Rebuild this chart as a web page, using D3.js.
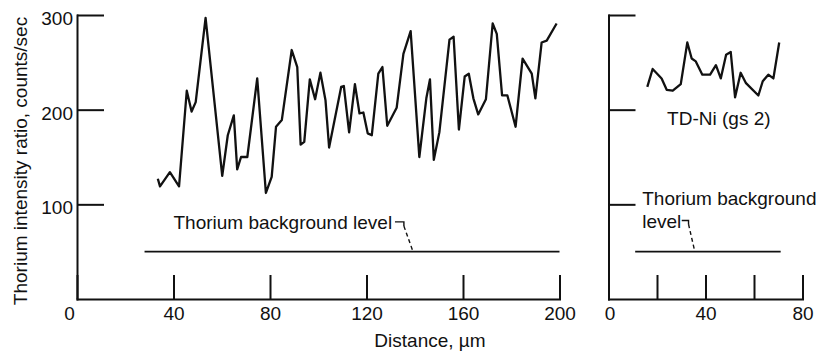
<!DOCTYPE html>
<html>
<head>
<meta charset="utf-8">
<script src="https://cdn.jsdelivr.net/npm/d3@7"></script>
<style>
body{margin:0;background:#fff;}
svg text{font-family:"Liberation Sans",Arial,sans-serif;font-size:19px;fill:#111;}
.axis path,.axis line{stroke:#111;stroke-width:2;}
</style>
</head>
<body>
<svg id="chart"></svg>
<script>
// left panel, distance in um / counts per sec
var distanceA=[33.5,34.4,38.5,42.3,45.5,47.5,49.2,53.3,60.2,62.5,65.0,66.4,68.0,70.6,74.7,78.3,80.7,82.5,84.9,89.0,
  91.3,92.7,94.2,96.5,98.7,100.9,103.0,104.5,109.5,110.6,112.8,115.2,117.1,118.7,120.5,122.2,124.9,126.6,128.6,132.5,
  135.3,138.3,141.9,144.8,146.3,147.9,150.2,154.4,156.1,158.3,160.7,162.4,164.3,166.3,169.5,172.3,174.0,176.2,178.4,181.8,
  184.7,188.5,190.0,192.6,194.7,198.8];
var intensityA=[127,119,134,119,220,198,208,297,130,173,194,137,150,150,233,112,129,182,189,263,
  245,163,166,232,211,239,210,160,224,225,176,227,196,197,175,173,238,245,183,202,
  259,283,150,212,232,147,176,274,277,179,235,238,212,195,211,291,280,215,215,182,
  254,238,212,271,273,291];
// right panel, TD-Ni (gs 2)
var distanceB=[16.0,18.2,21.9,24.0,26.5,29.8,32.5,34.3,36.0,38.7,41.9,44.3,46.3,48.5,50.4,52.2,54.5,56.7,61.8,63.6,65.9,68.0,70.4];
var intensityB=[224,243,233,221,220,227,271,254,251,237,237,247,233,258,261,213,239,228,215,230,237,233,271];
var backgroundLevel=50;
var backgroundA=[28,200];
var backgroundB=[11,71];
var yTicks=[100,200,300];
var xTicksA=[0,40,80,120,160,200];
var xTicksB=[0,20,40,60,80];
var xLabelsB=[0,40,80];

var svg=d3.select("#chart").attr("width",821).attr("height",352);

var yScale=d3.scaleLinear().domain([0,300]).range([299,15]);
var xA=d3.scaleLinear().domain([0,200]).range([77,559.5]);
var xB=d3.scaleLinear().domain([0,80]).range([608.5,802.5]);

var panel=function(x,xTicks,labelFn,yLabels,dist,vals,bg){
  var xAxis=d3.axisBottom(x).tickValues(xTicks).tickSizeInner(-24).tickSizeOuter(0).tickPadding(8).tickFormat(labelFn);
  var yAxis=d3.axisLeft(yScale).tickValues(yTicks).tickSizeInner(-27).tickSizeOuter(0).tickPadding(4)
    .tickFormat(function(d){return yLabels?d:"";});
  svg.append("g").attr("class","axis").attr("transform","translate(0,299)").call(xAxis);
  var gy=svg.append("g").attr("class","axis").attr("transform","translate("+x(0)+",0)").call(yAxis);
  gy.selectAll("text").attr("dy","0.5em");
  svg.selectAll(".domain").attr("stroke-linecap","square");

  svg.append("line")
     .attr("x1",x(bg[0])).attr("x2",x(bg[1]))
     .attr("y1",yScale(backgroundLevel)).attr("y2",yScale(backgroundLevel))
     .attr("stroke","#111").attr("stroke-width",1.6);

  var line=d3.line().x(function(d){return x(d[0]);}).y(function(d){return yScale(d[1]);});
  svg.append("path")
     .datum(d3.zip(dist,vals))
     .attr("d",line)
     .attr("fill","none")
     .attr("stroke","#111")
     .attr("stroke-width",2.3)
     .attr("stroke-linejoin","round");
};

panel(xA,xTicksA,function(d){return d;},true,distanceA,intensityA,backgroundA);
panel(xB,xTicksB,function(d){return xLabelsB.indexOf(d)>=0?d:"";},false,distanceB,intensityB,backgroundB);

// left "0" sits a bit left of the axis in the original
svg.selectAll(".axis text").filter(function(d){return d===0;}).attr("dx",function(){
  return d3.select(this.parentNode).attr("transform").indexOf("(77")>=0?-8:1;
});

// labels
svg.append("text")
   .attr("transform","translate(27,161) rotate(-90)")
   .attr("text-anchor","middle")
   .text("Thorium intensity ratio,  counts/sec");
svg.append("text").attr("x",430).attr("y",347).attr("text-anchor","middle").text("Distance, \u00b5m");

svg.append("text").attr("x",xA(40)).attr("y",yScale(73.5)).text("Thorium background level");
svg.append("path")
   .attr("d","M"+xA(131.8)+","+yScale(81.5)+"H"+xA(135.5)+"V"+yScale(77))
   .attr("fill","none").attr("stroke","#111").attr("stroke-width",1.4);
svg.append("path")
   .attr("d","M"+xA(135.5)+","+yScale(77)+"L"+xA(139.3)+","+yScale(backgroundLevel))
   .attr("fill","none").attr("stroke","#111").attr("stroke-width",1.4).attr("stroke-dasharray","4,3");

svg.append("text").attr("x",xB(13.9)).attr("y",yScale(99)).text("Thorium background");
svg.append("text").attr("x",xB(13.9)).attr("y",yScale(75)).text("level");
svg.append("path")
   .attr("d","M"+xB(30.2)+","+yScale(83)+"H"+xB(33)+"V"+yScale(79))
   .attr("fill","none").attr("stroke","#111").attr("stroke-width",1.4);
svg.append("path")
   .attr("d","M"+xB(33)+","+yScale(79)+"L"+xB(35.6)+","+yScale(backgroundLevel))
   .attr("fill","none").attr("stroke","#111").attr("stroke-width",1.4).attr("stroke-dasharray","4,3");

svg.append("text").attr("x",xB(45.5)).attr("y",yScale(184)).attr("text-anchor","middle").text("TD-Ni (gs 2)");
</script>
</body>
</html>
